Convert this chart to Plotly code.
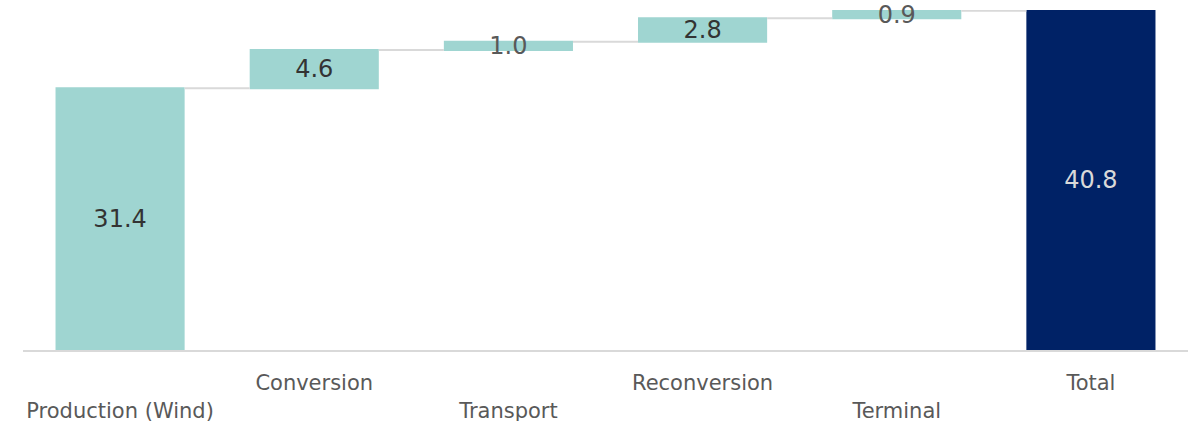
import plotly.graph_objects as go

categories = ["Production (Wind)", "Conversion", "Transport", "Reconversion", "Terminal", "Total"]
values = [31.4, 4.6, 1.0, 2.8, 0.9, 40.8]
measures = ["relative", "relative", "relative", "relative", "relative", "absolute"]
tick_labels = ["<br>Production (Wind)", "Conversion", "<br>Transport", "Reconversion", "<br>Terminal", "Total"]
label_colors = ["#333333", "#333333", "#595959", "#333333", "#595959", "#d9d9d9"]

fig = go.Figure(go.Waterfall(
    x=categories,
    y=values,
    measure=measures,
    text=[f"{v:.1f}" for v in values],
    textposition="inside",
    insidetextanchor="middle",
    constraintext="none",
    insidetextfont=dict(family="DejaVu Sans", size=24, color=label_colors),
    cliponaxis=False,
    increasing=dict(marker=dict(color="#9fd5d1", line=dict(width=0))),
    totals=dict(marker=dict(color="#002266", line=dict(width=0))),
    connector=dict(line=dict(color="#d9d9d9", width=2)),
    width=0.665,
))

fig.update_layout(
    width=1194, height=421,
    margin=dict(l=23, r=6, t=10, b=71, autoexpand=False),
    plot_bgcolor="white", paper_bgcolor="white",
    showlegend=False,
    hovermode=False,
    font=dict(family="DejaVu Sans", color="#595959"),
)
fig.update_xaxes(
    tickvals=categories, ticktext=tick_labels,
    tickfont=dict(family="DejaVu Sans", size=21, color="#595959"),
    showline=True, linecolor="#d9d9d9", linewidth=2,
    ticks="outside", ticklen=13, tickcolor="rgba(0,0,0,0)",
    showgrid=False, automargin=False,
)
fig.update_yaxes(range=[0, 40.8], visible=False, showgrid=False)

fig.write_html(
    "out.html",
    config={"displayModeBar": False, "staticPlot": True},
    post_script="document.body.style.margin='0';document.body.style.overflow='hidden';",
)
